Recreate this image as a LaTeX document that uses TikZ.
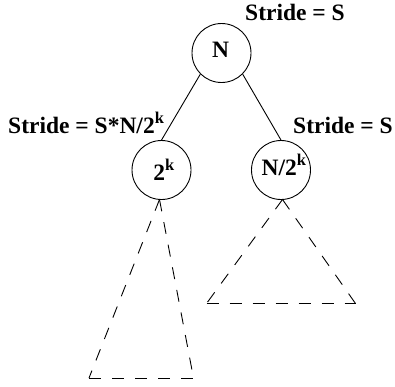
\documentclass[tikz,border=0pt]{standalone}
\usepackage{fontspec}
\setmainfont{Liberation Serif}
\begin{document}
\begin{tikzpicture}[x=1pt,y=-1pt,
  vtx/.style={draw,circle,line width=0.9pt,minimum size=59pt,inner sep=0pt},
  lbl/.style={inner sep=0pt,font=\fontsize{23.5}{28}\selectfont\bfseries},
  edge/.style={line width=0.9pt},
  sub/.style={line width=0.9pt,dash pattern=on 12pt off 11pt}]
\useasboundingbox (0,0) rectangle (395,386);
% circles
\node[vtx] (n0) at (221.5,53) {};
\node[vtx] (n1) at (161.5,170) {};
\node[vtx] (n2) at (281,170) {};
% texts in circles
\node[lbl,anchor=base] (t0) at (220.5,57.3) {N};
\node[lbl,anchor=base] (t1) at (164,180) {2\textsuperscript{k}};
\node[lbl,anchor=base] (t2) at (284,175) {N/2\textsuperscript{k}};
% stride labels
\node[lbl,anchor=base west] (s0) at (245,20) {Stride = S};
\node[lbl,anchor=base west] (s1) at (8,133) {Stride = S*N/2\textsuperscript{k}};
\node[lbl,anchor=base west] (s2) at (293,133) {Stride = S};
% edges
\draw[edge] (n0.south west) -- (n1.north);
\draw[edge] (n0.south east) -- (n2.north);
% subtrees
\coordinate (a1) at (159.5,199.5);
\coordinate (b1) at (89,378);
\coordinate (c1) at (193.5,378);
\coordinate (a2) at (282.5,199.5);
\coordinate (b2) at (206.5,303.5);
\coordinate (c2) at (355.5,303.5);
\draw[sub] (a1) -- (b1);
\draw[sub] (a1) -- (c1);
\draw[sub] (b1) -- (c1);
\draw[sub] (a2) -- (b2);
\draw[sub] (a2) -- (c2);
\draw[sub] (b2) -- (c2);
\end{tikzpicture}
\end{document}
